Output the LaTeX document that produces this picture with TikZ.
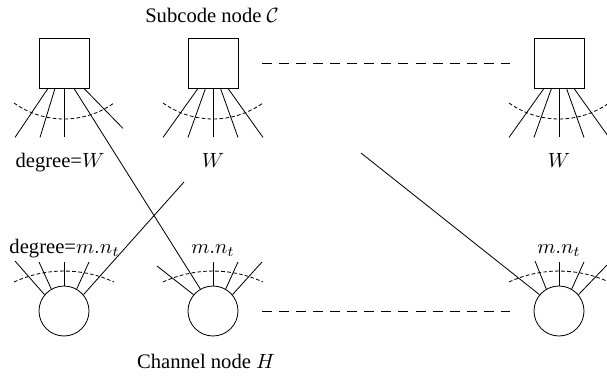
\documentclass[tikz,border=0pt]{standalone}
\usepackage{fontspec}
\setmainfont{Liberation Serif}
\usetikzlibrary{calc}
\tikzset{sq/.style={draw,minimum size=24.25pt,inner sep=0},
  chn/.style={draw,circle,minimum size=24.25pt,inner sep=0},
  fine/.style={dash pattern=on 1.8pt off 1.1pt},
  gap/.style={dash pattern=on 4.85pt off 3.4pt}}

\begin{document}
\begin{tikzpicture}[x=0.485pt,y=-0.485pt,font=\fontsize{10}{12}\selectfont]
\useasboundingbox (0,0) rectangle (607,375);
% subcode and channel nodes with their dashed arcs
\foreach \i/\x in {1/64,2/213,3/559}{
  \node[sq] (sub\i) at (\x,63){};
  \node[chn] (ch\i) at (\x,311){};
  \draw[fine] (\x-50,103) .. controls (\x-20,124.3) and (\x+20,124.3) .. (\x+50,103);
  \draw[fine] (\x-50,282) .. controls (\x-18.3,267.4) and (\x+18.3,267.4) .. (\x+50,282);
}
% edges of the subcode nodes
\foreach \i in {2,3}
  \foreach \s/\e in {-15/-50,-7.5/-25,0/0,7.5/25,15/50}
    \draw ($(sub\i.south)+(\s,0)$) -- ($(sub\i.south)+(\e,49)$);
\foreach \s/\e/\d in {-16/-49/49,-9/-24/49,0/0/49,20/59/40}
  \draw ($(sub1.south)+(\s,0)$) -- ($(sub1.south)+(\e,\d)$);
% edges of the channel nodes
\foreach \i/\list in {1/{140/-49/-50,120/-25/-49,90/0/-49,60/25/-49},
                      2/{140/-56/-45,90/0/-49,60/25/-49,40/49/-49},
                      3/{120/-24/-50,90/0/-49,60/25/-49,40/48/-46}}
  \foreach \a/\dx/\dy in \list
    \draw (ch\i.\a) -- ($(ch\i.center)+(\dx,\dy)$);
% connections
\coordinate (w2) at (184,182);
\coordinate (w3) at (361,153);
\draw ($(sub1.south)+(10,0)$) -- (ch2.120);
\draw (ch1.40) -- (w2);
\draw (ch3.140) -- (w3);
\draw[gap] ($(sub2.east)+(24,0)$) -- ($(sub3.west)+(-24,0)$);
\draw[gap] ($(ch2.east)+(24,0)$) -- ($(ch3.west)+(-24,0)$);
% labels
\node[anchor=base] (subtitle) at (212,22) {Subcode node $\mathcal{C}$};
\node[anchor=base] (chtitle) at (206,368) {Channel node $H$};
\node[anchor=base] (deg1) at (60,167) {degree=$W$};
\node[anchor=base] (deg2) at (213,167) {$W$};
\node[anchor=base] (deg3) at (559,167) {$W$};
\node[anchor=base] (mn1) at (64.5,253) {degree=$m.n_t$};
\node[anchor=base] (mn2) at (213,253) {$m.n_t$};
\node[anchor=base] (mn3) at (559,253) {$m.n_t$};
\end{tikzpicture}
\end{document}
